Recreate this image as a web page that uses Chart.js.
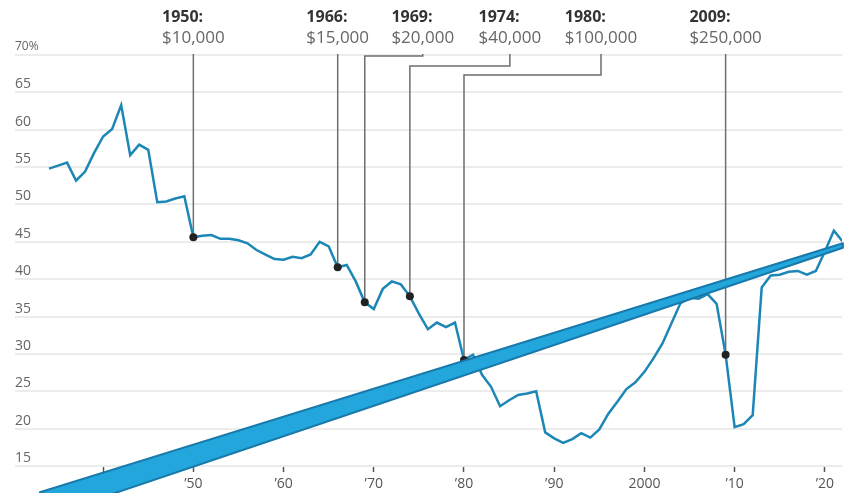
<!DOCTYPE html>
<html>
<head>
<meta charset="utf-8">
<script src="https://cdn.jsdelivr.net/npm/chart.js@4"></script>
<style>
  html, body { margin: 0; padding: 0; background: #fff; }
  #wrap { width: 846px; height: 493px; position: relative; }
</style>
</head>
<body>
<div id="wrap"><canvas id="myChart"></canvas></div>
<script>
// share (%) by year
const years = [
  1934, 1935, 1936, 1937, 1938, 1939, 1940, 1941, 1942, 1943, 1944, 1945, 1946, 1947, 1948, 1949,
  1950, 1951, 1952, 1953, 1954, 1955, 1956, 1957, 1958, 1959, 1960, 1961, 1962, 1963, 1964, 1965,
  1966, 1967, 1968, 1969, 1970, 1971, 1972, 1973, 1974, 1975, 1976, 1977, 1978, 1979, 1980, 1981,
  1982, 1983, 1984, 1985, 1986, 1987, 1988, 1989, 1990, 1991, 1992, 1993, 1994, 1995, 1996, 1997,
  1998, 1999, 2000, 2001, 2002, 2003, 2004, 2005, 2006, 2007, 2008, 2009, 2010, 2011, 2012, 2013,
  2014, 2015, 2016, 2017, 2018, 2019, 2020, 2021, 2022
];
const share = [
  54.8, 55.2, 55.6, 53.2, 54.4, 56.9, 59.1, 60.1, 63.3, 56.6, 58.0, 57.3, 50.3, 50.4, 50.8, 51.1,
  45.6, 45.8, 45.9, 45.4, 45.4, 45.2, 44.8, 43.9, 43.3, 42.7, 42.6, 43.0, 42.8, 43.3, 45.0, 44.4,
  41.6, 41.9, 39.7, 36.9, 36.0, 38.7, 39.7, 39.3, 37.7, 35.4, 33.3, 34.2, 33.6, 34.2, 29.2, 29.9,
  27.2, 25.6, 23.0, 23.8, 24.5, 24.7, 25.0, 19.5, 18.7, 18.1, 18.6, 19.4, 18.8, 19.9, 22.0, 23.6,
  25.3, 26.2, 27.6, 29.4, 31.4, 34.1, 36.8, 37.5, 37.4, 38.0, 36.7, 29.9, 20.2, 20.6, 21.8, 38.9,
  40.5, 40.6, 41.0, 41.1, 40.6, 41.1, 43.7, 46.5, 45.0
];

// annotated years and thresholds
const annoYears = [1950, 1966, 1969, 1974, 1980, 2009];
const annoAmounts = ['$10,000', '$15,000', '$20,000', '$40,000', '$100,000', '$250,000'];

// thick blue stroke across the chart (edges, in data units)
const bandTopX = [1933.0, 2022.0];
const bandTopY = [11.5, 44.8];
const bandBottomX = [1933.0, 2022.0];
const bandBottomY = [8.0, 44.2];

const yTicks = [15, 20, 25, 30, 35, 40, 45, 50, 55, 60, 65, 70];
const xTicks = [1940, 1950, 1960, 1970, 1980, 1990, 2000, 2010, 2020];

const lineData = years.map((y, i) => ({ x: y, y: share[i] }));
const dotData = annoYears.map(y => ({ x: y, y: share[years.indexOf(y)] }));

const leaderPlugin = {
  id: 'leaders',
  beforeDatasetsDraw(chart) {
    const { ctx, scales: { x, y } } = chart;
    // label shift (px) from the point and elbow height for the bent leaders
    const shift = [0, 0, 58, 100, 137, 0];
    const elbow = [null, null, 56, 66, 75, null];
    ctx.save();
    ctx.strokeStyle = '#6e6e6e';
    ctx.lineWidth = 1.5;
    annoYears.forEach((yr, i) => {
      const px = x.getPixelForValue(yr);
      const py = y.getPixelForValue(share[years.indexOf(yr)]);
      const tx = px + shift[i];
      ctx.beginPath();
      ctx.moveTo(tx, 54);
      if (elbow[i] !== null) {
        ctx.lineTo(tx, elbow[i]);
        ctx.lineTo(px, elbow[i]);
      }
      ctx.lineTo(px, py);
      ctx.stroke();

      ctx.textBaseline = 'alphabetic';
      ctx.textAlign = 'left';
      ctx.font = '17px "Open Sans"';
      const w = ctx.measureText(annoAmounts[i]).width;
      const left = tx - w / 2;
      ctx.fillStyle = '#666';
      ctx.fillText(annoAmounts[i], left, 43);
      ctx.font = 'bold 16px "Open Sans"';
      ctx.fillStyle = '#333';
      ctx.fillText(yr + ':', left, 22);
    });
    ctx.restore();
  },
  afterDatasetsDraw(chart) {
    const { ctx, scales: { x, y } } = chart;
    const top = bandTopX.map((v, i) => [x.getPixelForValue(v), y.getPixelForValue(bandTopY[i])]);
    const bot = bandBottomX.map((v, i) => [x.getPixelForValue(v), y.getPixelForValue(bandBottomY[i])]);
    ctx.save();
    ctx.beginPath();
    top.forEach((p, i) => i ? ctx.lineTo(p[0], p[1]) : ctx.moveTo(p[0], p[1]));
    bot.slice().reverse().forEach(p => ctx.lineTo(p[0], p[1]));
    ctx.closePath();
    ctx.fillStyle = '#22a6dc';
    ctx.fill();
    ctx.strokeStyle = '#1879aa';
    ctx.lineWidth = 2;
    ctx.lineJoin = 'round';
    ctx.stroke();
    ctx.restore();
  }
};

const ctx = document.getElementById('myChart').getContext('2d');
new Chart(ctx, {
  type: 'line',
  data: {
    datasets: [
      {
        data: dotData,
        showLine: false,
        pointRadius: 4,
        pointBackgroundColor: '#222',
        pointBorderColor: '#222',
        pointBorderWidth: 0
      },
      {
        data: lineData,
        borderColor: '#1c87b6',
        borderWidth: 2.5,
        pointRadius: 0,
        tension: 0,
        fill: false
      }
    ]
  },
  options: {
    animation: false,
    responsive: true,
    maintainAspectRatio: false,
    layout: { padding: { top: 55, left: 15, right: 0, bottom: 0 } },
    plugins: {
      legend: { display: false },
      tooltip: { enabled: false }
    },
    scales: {
      x: {
        type: 'linear',
        min: 1930.23,
        max: 2021.9,
        afterBuildTicks: s => { s.ticks = xTicks.map(v => ({ value: v })); },
        afterFit: s => { s.height = 27; },
        border: { display: false },
        grid: {
          drawOnChartArea: false,
          drawTicks: true,
          tickLength: 6,
          tickColor: '#555',
          tickWidth: 1.5
        },
        ticks: {
          padding: 4,
          color: '#555',
          font: { family: 'Open Sans', size: 14 },
          maxRotation: 0,
          callback: v => v === 2000 ? '2000' : '\u2019' + String(v).slice(2)
        }
      },
      y: {
        min: 15,
        max: 70,
        afterBuildTicks: s => { s.ticks = yTicks.map(v => ({ value: v })); },
        border: { display: false },
        grid: {
          color: '#ececec',
          lineWidth: 2,
          drawTicks: false
        },
        ticks: {
          mirror: true,
          padding: 0,
          labelOffset: -8,
          color: '#666',
          font: c => ({ family: 'Open Sans', size: c.tick && c.tick.value === 70 ? 12 : 14 }),
          callback: v => v === 70 ? '70%' : String(v)
        }
      }
    }
  },
  plugins: [leaderPlugin]
});
</script>
</body>
</html>
